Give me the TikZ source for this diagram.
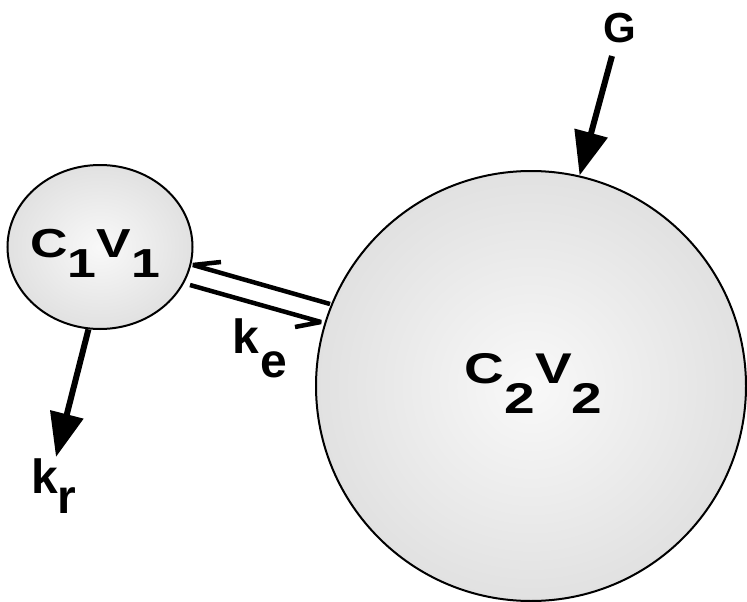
\documentclass[tikz,border=0pt]{standalone}
\usepackage{fontspec}
\setmainfont{Liberation Sans}
\usetikzlibrary{arrows.meta,shapes.geometric}
\definecolor{ballin}{gray}{0.975}
\definecolor{ballout}{gray}{0.79}
\pgfdeclareradialshading{ballshade}{\pgfpoint{0bp}{0bp}}{color(0bp)=(ballin); color(50bp)=(ballout); color(100bp)=(ballout)}
\begin{document}
\begin{tikzpicture}[x=1pt,y=-1pt,
  lbl/.style={inner sep=0pt, anchor=base west, font=\bfseries\fontsize{42}{48}\selectfont},
  klbl/.style={lbl, font=\bfseries\fontsize{48}{54}\selectfont},
  ball/.style={draw=black, line width=2pt, shading=ballshade, inner sep=0pt},
  thickarrow/.style={line width=6pt, -{Triangle[length=44pt,width=33pt]}},
  harp/.style={line width=4.5pt, line join=bevel}]
\useasboundingbox (0,0) rectangle (747,602);
\node[ball, ellipse, minimum width=185pt, minimum height=164pt] (c1) at (100,247) {};
\node[ball, circle, minimum size=430pt] (c2) at (531,386) {};
% labels
\node[lbl, font=\bfseries\fontsize{40.5}{48}\selectfont] (t1) at (30,257) {\scalebox{1.28}[1]{C\raisebox{-20pt}{1}V\raisebox{-20pt}{1}}};
\node[lbl, font=\bfseries\fontsize{43}{48}\selectfont] (t2) at (464.5,383) {\scalebox{1.28}[1]{C\raisebox{-30pt}{2}V\raisebox{-30pt}{2}}};
\node[lbl] (g) at (603,43) {G};
\node[klbl] (ke) at (232.6,353) {k\kern1pt\raisebox{-24pt}{e}};
\node[klbl] (kr) at (31.6,493) {k\kern-1pt\raisebox{-20pt}{r}};
% arrows
\coordinate (gs) at (612,56);
\draw[thickarrow] (gs) -- (c2.77);
\coordinate (krtip) at (56,457);
\draw[thickarrow] (c1.-98) -- (krtip);
% exchange harpoons
\coordinate (h1a) at (330,304);
\coordinate (h1b) at (193,265);
\coordinate (h1c) at (221,262);
\draw[harp] (h1a) -- (h1b) -- (h1c);
\coordinate (h2a) at (190,285);
\coordinate (h2b) at (321,322);
\coordinate (h2c) at (295,327);
\draw[harp] (h2a) -- (h2b) -- (h2c);
\end{tikzpicture}
\end{document}
